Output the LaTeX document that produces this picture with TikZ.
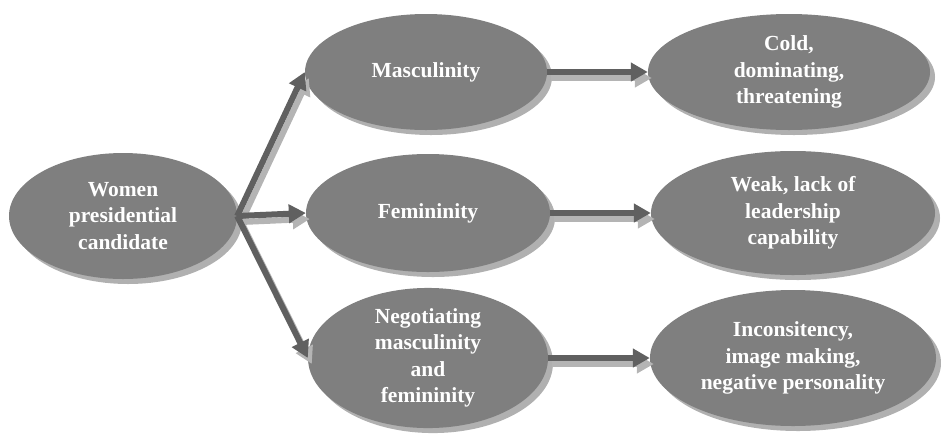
\documentclass[tikz,border=0pt]{standalone}
\usepackage{fontspec}
\setmainfont{Liberation Serif}
\usetikzlibrary{arrows.meta,shadows,shapes.geometric}
\definecolor{bubble}{HTML}{7F7F7F}
\definecolor{bubbleshade}{HTML}{B0B0B0}
\definecolor{linkgray}{HTML}{606060}
\definecolor{linkshade}{HTML}{B4B4B4}
\begin{document}
\begin{tikzpicture}[x=1pt,y=-1pt,
  bubblebox/.style={ellipse, fill=bubble, inner sep=0pt, text=white,
    font=\fontsize{21.5}{26.5}\selectfont\bfseries, align=center,
    drop shadow={shadow xshift=5pt, shadow yshift=-5pt, fill=bubbleshade, opacity=1}},
  link/.style={line width=6pt, draw=linkgray, -{Triangle[width=18pt,length=17pt]}},
  linkshadow/.style={link, draw=linkshade, fill=linkshade, transform canvas={xshift=4pt,yshift=-6pt}}]
\useasboundingbox (0,0) rectangle (941,437);
% nodes
\node[bubblebox, minimum width=228pt, minimum height=126pt] (W) at (123,216) {Women\\presidential\\candidate};
\node[bubblebox, minimum width=242pt, minimum height=116pt] (M) at (426,72) {Masculinity};
\node[bubblebox, minimum width=244pt, minimum height=118pt] (F) at (428,213) {Femininity};
\node[bubblebox, minimum width=240pt, minimum height=138pt] (N) at (428,358) {Negotiating\\masculinity\\and\\femininity};
\node[bubblebox, minimum width=282pt, minimum height=116pt] (C) at (789,72) {Cold,\\dominating,\\threatening};
\node[bubblebox, minimum width=284pt, minimum height=124pt] (K) at (793,213) {Weak, lack of\\leadership\\capability};
\node[bubblebox, minimum width=286pt, minimum height=136pt] (I) at (793,358) {Inconsitency,\\image making,\\negative personality};
% connector shadows
\draw[linkshadow] (W.east) -- (M.west);
\draw[linkshadow] (W.east) -- (F.west);
\draw[linkshadow] (W.east) -- (N.west);
\draw[linkshadow] (M.east) -- (C.west);
\draw[linkshadow] (F.east) -- (K.west);
\draw[linkshadow] (N.east) -- (I.west);
% connectors
\draw[link] (W.east) -- (M.west);
\draw[link] (W.east) -- (F.west);
\draw[link] (W.east) -- (N.west);
\draw[link] (M.east) -- (C.west);
\draw[link] (F.east) -- (K.west);
\draw[link] (N.east) -- (I.west);
\end{tikzpicture}
\end{document}
